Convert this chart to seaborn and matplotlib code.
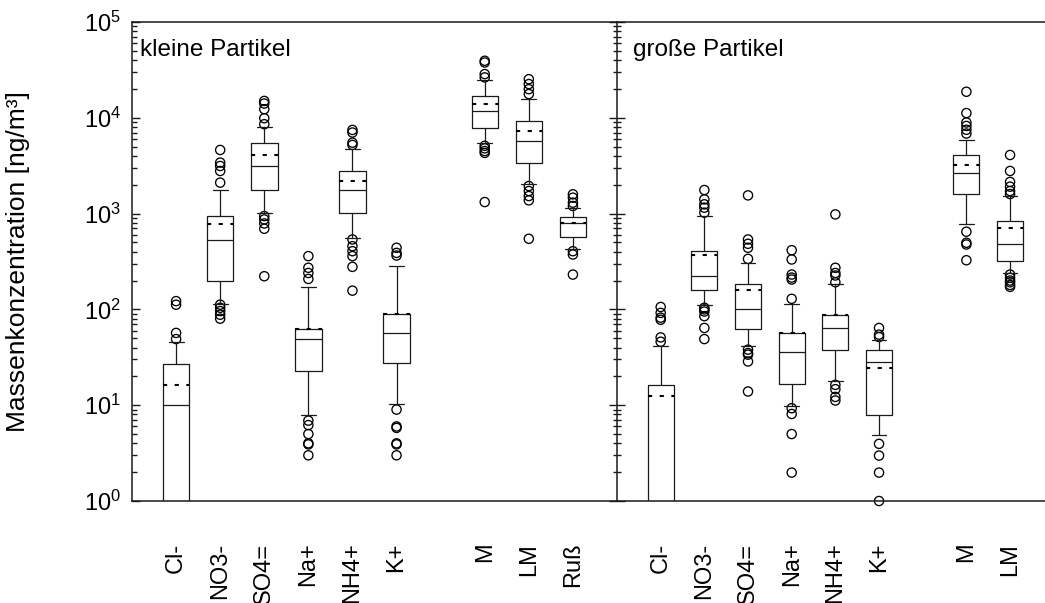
import numpy as np
import pandas as pd
import matplotlib
matplotlib.use("Agg")
import matplotlib.pyplot as plt
import seaborn as sns
from matplotlib.ticker import LogLocator, NullFormatter

# ---------------- data ----------------
cats_small = ["Cl-", "NO3-", "SO4=", "Na+", "NH4+", "K+", "M", "LM", "Ruß"]
q1_small = [0.5, 197, 1760, 22.5, 1010, 27.6, 7900, 3410, 573]
med_small = [10, 525, 3140, 49, 1750, 56.8, 11800, 5740, 790]
q3_small = [27.1, 942, 5510, 62.5, 2790, 90.4, 16900, 9150, 927]
mean_small = [16.2, 771, 4130, 62.5, 2210, 90.4, 13900, 7300, 800]
wlo_small = [0.3, 113, 1021, 7.9, 550, 10.4, 5420, 2055, 430]
whi_small = [45.7, 1762, 8030, 172, 4700, 282, 24700, 15700, 1133]
out_small = [
    [122, 112, 56.8, 49],
    [4617, 3406, 3140, 2786, 2105, 112, 104, 96, 88, 80],
    [15000, 14100, 12300, 9900, 8570, 942, 870, 789, 695, 222],
    [360, 272, 240, 208, 6.9, 6.2, 5.0, 4.0, 3.9, 3.0],
    [7470, 7020, 5500, 5210, 537, 457, 405, 360, 278, 157],
    [440, 389, 365, 9.0, 6.0, 5.8, 4.0, 3.9, 3.0],
    [39400, 37800, 28600, 26400, 5100, 4800, 4500, 4300, 1320],
    [25300, 22500, 19900, 17700, 1940, 1720, 1525, 1374, 546],
    [1590, 1466, 1300, 1200, 405, 374, 231],
]

cats_large = ["Cl-", "NO3-", "SO4=", "Na+", "NH4+", "K+", "M", "LM"]
q1_large = [0.5, 161, 62.5, 16.7, 37.3, 7.9, 1590, 318]
med_large = [0.5, 222, 101, 35.9, 64, 28, 2630, 476]
q3_large = [16.1, 405, 182, 56.8, 88.3, 37.3, 4090, 835]
mean_large = [12.5, 374, 161, 56.8, 88.3, 24.4, 3190, 712]
wlo_large = [0.3, 112, 41.8, 9.9, 17.7, 4.9, 784, 237]
whi_large = [41.8, 942, 306, 114, 182, 47.5, 5830, 1525]
out_large = [
    [106, 92, 82, 78, 51, 46],
    [1762, 1408, 1250, 1153, 1022, 104, 100, 95, 85, 64, 49],
    [1550, 537, 484, 440, 337, 38, 35, 33.7, 28.6, 13.9],
    [415, 332, 231, 215, 205, 129, 9.3, 8.1, 5.0, 1.98],
    [981, 272, 240, 226, 192, 16.3, 14.7, 12.2, 11.2],
    [64, 54.5, 51.5, 3.95, 2.98, 1.98, 1.0],
    [18700, 11200, 8930, 8220, 7500, 6850, 647, 496, 476, 326],
    [4090, 2786, 2140, 1910, 1720, 1600, 231, 214, 200, 192, 180, 172],
]

panel_titles = ["kleine Partikel", "große Partikel"]
ylabel = "Massenkonzentration [ng/m³]"

# ---------------- style ----------------
sns.set_theme(style="ticks")
plt.rcParams['font.family'] = ['Liberation Sans', 'DejaVu Sans']
plt.rcParams['mathtext.fontset'] = 'custom'
plt.rcParams['mathtext.rm'] = 'Liberation Sans'
plt.rcParams['mathtext.it'] = 'Liberation Sans:italic'
plt.rcParams['mathtext.bf'] = 'Liberation Sans:bold'
plt.rcParams['text.color'] = 'black'
plt.rcParams['axes.labelcolor'] = 'black'
plt.rcParams['xtick.color'] = 'black'
plt.rcParams['ytick.color'] = 'black'
plt.rcParams['xtick.labelcolor'] = 'black'
plt.rcParams['ytick.labelcolor'] = 'black'

FS = 17
LC = "#1a1a1a"

fig = plt.figure(figsize=(10.45, 6.03), dpi=100)
ybot = 1 - 501 / 603
yh = 479 / 603
ax1 = fig.add_axes([132 / 1045, ybot, 485 / 1045, yh])
ax2 = fig.add_axes([617 / 1045, ybot, 428 / 1045, yh])


def draw(ax, cats, positions, q1, med, q3, mean, wlo, whi, outl):
    stats = []
    for i, c in enumerate(cats):
        stats.append(dict(label=c, q1=q1[i], med=med[i], q3=q3[i], mean=mean[i],
                          whislo=wlo[i], whishi=whi[i], fliers=[]))
    lp = dict(color=LC, linewidth=0.9)
    ax.bxp(stats, positions=positions, widths=0.6, capwidths=0.34,
           showmeans=True, meanline=True, showfliers=False,
           boxprops=lp, whiskerprops=lp, capprops=lp,
           medianprops=dict(color=LC, linewidth=0.9),
           meanprops=dict(color="black", linewidth=1.5, linestyle=(0, (2.0, 3.6))))
    xs, ys = [], []
    for p, vals in zip(positions, outl):
        xs += [p] * len(vals)
        ys += list(vals)
    df = pd.DataFrame({"pos": xs, "val": ys})
    sns.scatterplot(data=df, x="pos", y="val", ax=ax, marker="o", s=44, legend=False)
    pts = ax.collections[-1]
    pts.set_facecolor("none")
    pts.set_edgecolor("black")
    pts.set_linewidth(0.95)
    pts.set_clip_on(False)
    ax.set_yscale("log")
    ax.set_ylim(1, 1e5)
    ax.yaxis.set_major_locator(LogLocator(base=10, numticks=10))
    ax.yaxis.set_minor_locator(LogLocator(base=10, subs=np.arange(2, 10), numticks=10))
    ax.yaxis.set_minor_formatter(NullFormatter())
    ax.set_xticks(positions)
    ax.set_xticklabels(cats, rotation=90, fontsize=FS)
    ax.tick_params(axis="x", length=0, pad=30)
    ax.set_xlabel("")
    ax.set_ylabel("")
    for s in ax.spines.values():
        s.set_color(LC)
        s.set_linewidth(1.1)
    ax.spines["right"].set_visible(False)


pos_small = [0, 1, 2, 3, 4, 5, 7, 8, 9]
pos_large = [0, 1, 2, 3, 4, 5, 7, 8]
draw(ax1, cats_small, pos_small, q1_small, med_small, q3_small, mean_small,
     wlo_small, whi_small, out_small)
draw(ax2, cats_large, pos_large, q1_large, med_large, q3_large, mean_large,
     wlo_large, whi_large, out_large)

ax1.set_xlim(-1, 10)
ax2.set_xlim(-1, 8.8)

ax1.tick_params(axis="y", which="major", direction="in", length=6, width=1,
                labelsize=FS, pad=8, color=LC)
ax1.tick_params(axis="y", which="minor", direction="in", length=3.5, width=1, color=LC)
ax2.tick_params(axis="y", which="major", direction="inout", length=11, width=1,
                labelleft=False, color=LC)
ax2.tick_params(axis="y", which="minor", direction="inout", length=5.5, width=1, color=LC)

ax1.text(0.017, 0.965, panel_titles[0], transform=ax1.transAxes, ha="left", va="top",
         fontsize=FS + 0.5)
ax2.text(0.037, 0.965, panel_titles[1], transform=ax2.transAxes, ha="left", va="top",
         fontsize=FS + 0.5)

ax1.set_ylabel(ylabel, fontsize=19)
ax1.yaxis.set_label_coords(-0.21, 0.5)

fig.savefig("out.png", dpi=100)
